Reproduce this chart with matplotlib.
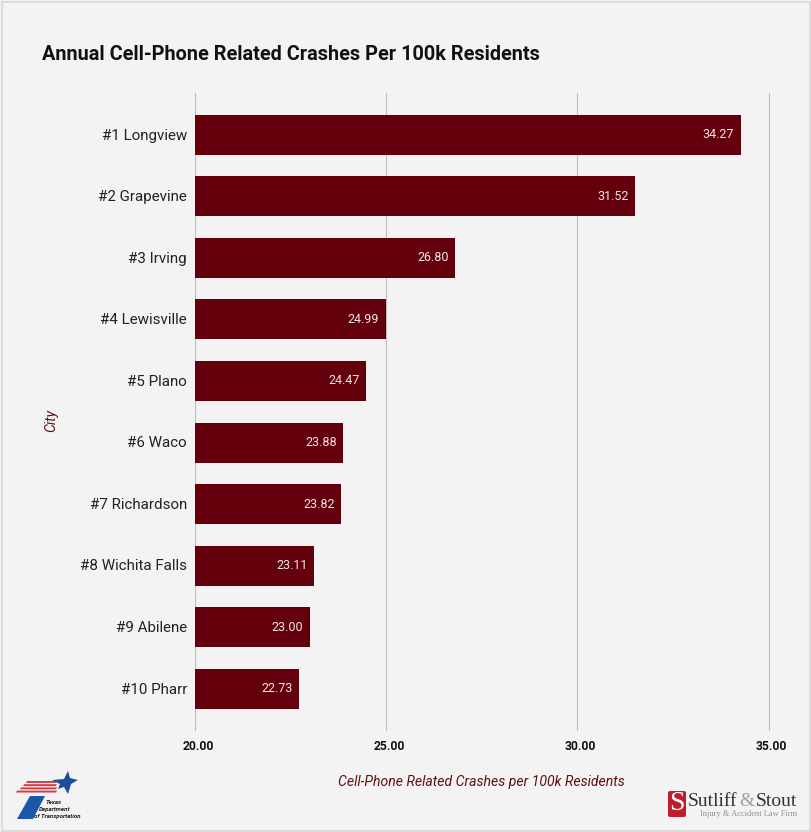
import matplotlib
matplotlib.use("Agg")
import matplotlib.pyplot as plt
from matplotlib.patches import Polygon, Rectangle, FancyBboxPatch
from matplotlib.transforms import ScaledTranslation

plt.rcParams['font.family'] = ['Roboto', 'DejaVu Sans']

cities = ["#1 Longview", "#2 Grapevine", "#3 Irving", "#4 Lewisville", "#5 Plano",
          "#6 Waco", "#7 Richardson", "#8 Wichita Falls", "#9 Abilene", "#10 Pharr"]
values = [34.27, 31.52, 26.80, 24.99, 24.47, 23.88, 23.82, 23.11, 23.00, 22.73]
xticks = [20, 25, 30, 35]
title = "Annual Cell-Phone Related Crashes Per 100k Residents"
xlabel = "Cell-Phone Related Crashes per 100k Residents"
ylabel = "City"

W, H = 811, 832
BG = "#f3f3f3"
BAR = "#63000c"
LAB = "#5f0f14"

fig = plt.figure(figsize=(W/100, H/100), dpi=100, facecolor=BG)

# frame
bg = fig.add_axes([0, 0, 1, 1], zorder=0)
bg.set_xlim(0, W); bg.set_ylim(H, 0); bg.axis("off")
bg.add_patch(Rectangle((1.5, 1.5), W-3, H-3, fc=BG, ec="#dcdcdc", lw=1.5))

# main axes
left, right, top, bottom = 195, 768.5, 93, 730
first = 134.8
step = 61.55
ax = fig.add_axes([left/W, 1-bottom/H, (right-left)/W, (bottom-top)/H], zorder=1)
ax.patch.set_alpha(0)
ax.barh(range(len(cities)), values, left=0, height=0.65, color=BAR, zorder=3)
ax.set_xlim(20, 35)
ax.set_ylim((bottom-first)/step, -(first-top)/step)
ax.set_yticks(range(len(cities)))
ax.set_yticklabels(cities, fontsize=10.9, color="#222222")
ax.set_xticks(xticks)
ax.set_xticklabels([f"{t:.2f}" for t in xticks], fontsize=8.7, fontweight="bold", color="#111111")
ax.tick_params(axis="y", length=0, pad=5.8)
ax.tick_params(axis="x", length=0, pad=7)
xoff = ScaledTranslation(3/100, 0, fig.dpi_scale_trans)
for lbl in ax.get_xticklabels():
    lbl.set_ha("center")
    lbl.set_transform(lbl.get_transform() + xoff)
yoff = ScaledTranslation(0, 0.7/100, fig.dpi_scale_trans)
for lbl in ax.get_yticklabels():
    lbl.set_transform(lbl.get_transform() + yoff)
ax.grid(axis="x", color="#bdbdbd", lw=0.75, zorder=1)
for gl in ax.get_xgridlines():
    gl.set_clip_on(False)
for s in ax.spines.values():
    s.set_visible(False)
for i, v in enumerate(values):
    ax.annotate(f"{v:.2f}", (v, i), xytext=(-6.5, 0), textcoords="offset pixels",
                ha="right", va="center", color="#f3e6e6", fontsize=9.0, zorder=4)

fig.text(42/W, 1-54/H, title, fontsize=14.34, fontweight="bold", color="#111111", ha="left", va="center")
fig.text(481/W, 1-782/H, xlabel, fontsize=10.1, style="italic", color=LAB, ha="center", va="center")
fig.text(51/W, 1-421/H, ylabel, fontsize=10.1, style="italic", color=LAB, rotation=90, ha="center", va="center")

# TxDOT logo (real text + simple shapes)
logo = fig.add_axes([0, 0, 1, 1], zorder=2)
logo.set_xlim(0, W); logo.set_ylim(H, 0); logo.axis("off")
for y, xa in zip([781, 784.2, 787.4, 790.6], [27, 24, 21, 17]):
    logo.add_patch(Polygon([(xa, y), (57, y), (56, y+1.9), (xa-1, y+1.9)], fc="#d8383f", ec="none"))
logo.add_patch(Polygon([(68, 771), (70, 778), (78, 780), (71, 784), (68, 794), (64, 787),
                        (58, 789), (60, 784), (52, 780), (64, 779)], fc="#1b4f9c", ec="none"))
logo.add_patch(Polygon([(30, 796), (45, 796), (33, 819), (17, 819)], fc="#1b57a8", ec="none"))
for txt, x, y in [("Texas", 54, 803), ("Department", 55, 809.5), ("of Transportation", 57, 816.5)]:
    logo.text(x, y, txt, fontsize=4.4, fontweight="bold", style="italic", color="#222222", ha="center", va="center")

# Sutliff & Stout logo
logo.add_patch(FancyBboxPatch((668, 791), 18, 26, boxstyle="round,pad=0,rounding_size=2", fc="#bd1e2d", ec="none"))
logo.text(677, 804, "S", fontsize=20, family="Liberation Serif", color="white", ha="center", va="center")
logo.text(688, 801, "Sutliff", fontsize=14, family="Liberation Serif", color="#333333", ha="left", va="center")
logo.text(746.5, 801, "&", fontsize=14, family="Liberation Serif", color="#a0a0a0", ha="center", va="center")
logo.text(797.5, 801, "Stout", fontsize=14, family="Liberation Serif", color="#333333", ha="right", va="center")
logo.text(797.5, 813.5, "Injury & Accident Law Firm", fontsize=6, family="Liberation Serif", color="#909090", ha="right", va="center")

fig.savefig("out.png", dpi=100, facecolor=BG)
